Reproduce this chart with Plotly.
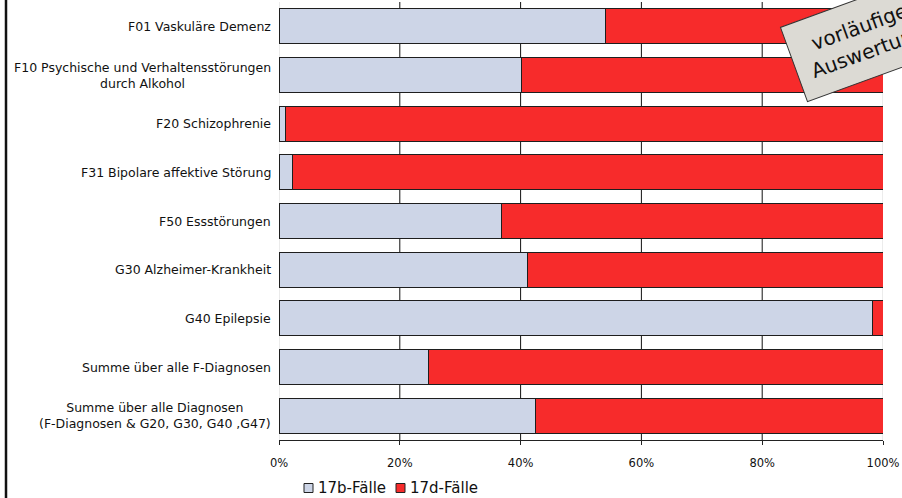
import plotly.graph_objects as go

# Diagnose categories (top to bottom) and share of 17b / 17d cases
categories = [
    "F01 Vaskuläre Demenz",
    "F10 Psychische und Verhaltensstörungen<br>durch Alkohol",
    "F20 Schizophrenie",
    "F31 Bipolare affektive Störung",
    "F50 Essstörungen",
    "G30 Alzheimer-Krankheit",
    "G40 Epilepsie",
    "Summe über alle F-Diagnosen",
    "Summe über alle Diagnosen<br>(F-Diagnosen & G20, G30, G40 ,G47)",
]
share_17b = [0.540, 0.401, 0.010, 0.022, 0.369, 0.412, 0.983, 0.247, 0.425]
share_17d = [1 - v for v in share_17b]
series_names = ["17b-Fälle", "17d-Fälle"]
series_colors = ["#CDD5E7", "#F72B2B"]
x_ticks = [0, 0.2, 0.4, 0.6, 0.8, 1.0]
x_ticklabels = ["0%", "20%", "40%", "60%", "80%", "100%"]
stamp_text = "vorläufige<br>Auswertung"

W, H = 902, 498
ML, MR, MT, MB = 279, 19, 2, 58
PW, PH = W - ML - MR, H - MT - MB
FONT = "DejaVu Sans"


def px_x(x):
    return (x - ML) / PW


def px_y(y):
    return 1 - (y - MT) / PH


fig = go.Figure()
for name, vals, color in zip(series_names, [share_17b, share_17d], series_colors):
    fig.add_trace(go.Bar(
        y=categories, x=vals, name=name, orientation="h",
        marker=dict(color=color, line=dict(color="#1e1e1e", width=1)),
    ))

fig.update_layout(
    width=W, height=H,
    margin=dict(l=ML, r=MR, t=MT, b=MB),
    barmode="stack", bargap=0.28,
    plot_bgcolor="white", paper_bgcolor="white",
    font=dict(family=FONT, size=12, color="#111"),
    showlegend=False,
    xaxis=dict(range=[0, 1], tickvals=x_ticks, ticktext=x_ticklabels,
               showgrid=False, zeroline=False, showline=True, linecolor="#222",
               linewidth=1, ticks="outside", ticklen=4, tickcolor="#222",
               ticklabelstandoff=8, tickfont=dict(size=11.5), fixedrange=True),
    yaxis=dict(autorange="reversed", showticklabels=False, showgrid=False,
               zeroline=False, showline=False, ticks=""),
)

# vertical grid lines at inner ticks
for v in x_ticks[1:-1]:
    fig.add_shape(type="line", xref="x", yref="paper", x0=v, x1=v, y0=0, y1=1,
                  line=dict(color="#111", width=1), layer="below")
for v in (x_ticks[0], x_ticks[-1]):
    fig.add_shape(type="line", xref="x", yref="paper", x0=v, x1=v, y0=0, y1=1,
                  line=dict(color="#d8d8d8", width=1), layer="below")

# category labels, centred lines, right-anchored next to the axis
for cat in categories:
    fig.add_annotation(x=0, y=cat, xref="paper", yref="y", text=cat,
                       xanchor="right", xshift=-6, align="center", showarrow=False,
                       font=dict(size=12.5, family=FONT, color="#111"))

# legend: small square swatches followed by the series name
legend_x = [304, 396]
ly = 488
for name, color, lx in zip(series_names, series_colors, legend_x):
    fig.add_shape(type="rect", xref="paper", yref="paper",
                  x0=px_x(lx), x1=px_x(lx + 9), y0=px_y(ly + 4.5), y1=px_y(ly - 4.5),
                  fillcolor=color, line=dict(color="#222", width=1))
    fig.add_annotation(x=px_x(lx + 12), y=px_y(ly), xref="paper", yref="paper",
                       text=name, xanchor="left", yanchor="middle", showarrow=False,
                       font=dict(size=15, family=FONT, color="#111"))

# left frame border
fx = px_x(6)
fig.add_shape(type="line", xref="paper", yref="paper", x0=fx, x1=fx, y0=-1, y1=2,
              line=dict(color="#111", width=2.5))

# rotated stamp
sx, sy = 864, 39
fig.add_annotation(x=px_x(sx), y=px_y(sy), xref="paper", yref="paper",
                   text=stamp_text, showarrow=False, textangle=-20,
                   xanchor="center", yanchor="middle", align="center",
                   bgcolor="#DCDAD4", bordercolor="#333", borderwidth=1, borderpad=14,
                   font=dict(size=20, family=FONT, color="#111"))

fig.write_html("out.html")
